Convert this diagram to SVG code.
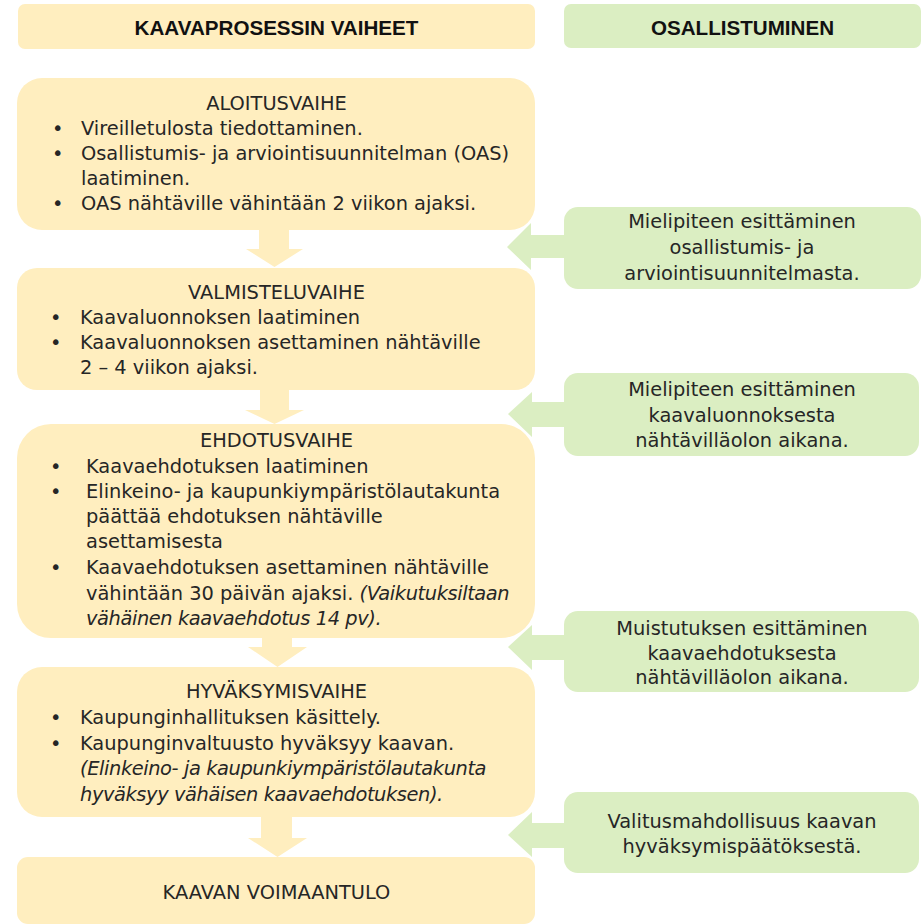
<svg xmlns="http://www.w3.org/2000/svg" width="921" height="924" viewBox="0 0 921 924">
<style>
.y{fill:#FFEEBF}
.g{fill:#DBEEC2}
text{font-family:"DejaVu Sans","Liberation Sans",Arial,sans-serif;font-size:19.4px;fill:#262626}
.h{font-family:"Liberation Sans",Arial,sans-serif;font-weight:bold;font-size:20.6px;text-anchor:middle;fill:#111}
.c{text-anchor:middle}
.i{font-style:italic;letter-spacing:-0.4px}
</style>
<rect width="921" height="924" fill="#ffffff"/>
<g id="connectors">
<path class="y" d="M259,230 H289 V249 H303 L274.5,267 L246,249 H259 Z"/>
<path class="y" d="M260,390 H289 V410 H304 L274.5,424 L245,410 H260 Z"/>
<path class="y" d="M262,638 H292 V647 H307 L277.5,667 L248,647 H262 Z"/>
<path class="y" d="M261,817 H292 V838 H307 L277.5,857 L248,838 H261 Z"/>
<path class="g" d="M565,235 H531 V223 L507,247 L531,270 V258 H565 Z"/>
<path class="g" d="M565,402 H532 V392 L508,414 L532,437 V427 H565 Z"/>
<path class="g" d="M565,635 H532 V625 L508,647 L532,670 V660 H565 Z"/>
<path class="g" d="M565,823 H532 V812 L508,835 L532,857 V848 H565 Z"/>
</g>
<g id="header-left">
<rect class="y" x="18" y="4" width="517" height="45" rx="7"/>
<text class="h" x="276.5" y="35">KAAVAPROSESSIN VAIHEET</text>
</g>
<g id="header-right">
<rect class="g" x="564" y="4" width="357" height="44" rx="7"/>
<text class="h" x="742.5" y="35">OSALLISTUMINEN</text>
</g>
<g id="aloitusvaihe">
<rect class="y" x="17" y="78" width="518" height="152" rx="25"/>
<text class="c" x="276.5" y="110">ALOITUSVAIHE</text>
<text x="52" y="135">•</text><text x="81" y="135">Vireilletulosta tiedottaminen.</text>
<text x="52" y="160">•</text><text x="81" y="160">Osallistumis- ja arviointisuunnitelman (OAS)</text>
<text x="81" y="185">laatiminen.</text>
<text x="52" y="210">•</text><text x="81" y="210">OAS nähtäville vähintään 2 viikon ajaksi.</text>
</g>
<g id="valmisteluvaihe">
<rect class="y" x="17" y="268" width="518" height="122" rx="20"/>
<text class="c" x="276.5" y="299">VALMISTELUVAIHE</text>
<text x="50" y="324">•</text><text x="80" y="324">Kaavaluonnoksen laatiminen</text>
<text x="50" y="349">•</text><text x="80" y="349">Kaavaluonnoksen asettaminen nähtäville</text>
<text x="80" y="374">2 – 4 viikon ajaksi.</text>
</g>
<g id="ehdotusvaihe">
<rect class="y" x="17" y="424" width="518" height="214" rx="34"/>
<text class="c" x="276.5" y="447">EHDOTUSVAIHE</text>
<text x="50" y="473">•</text><text x="86" y="473">Kaavaehdotuksen laatiminen</text>
<text x="50" y="498">•</text><text x="86" y="498">Elinkeino- ja kaupunkiympäristölautakunta</text>
<text x="86" y="523">päättää ehdotuksen nähtäville</text>
<text x="86" y="548">asettamisesta</text>
<text x="50" y="574">•</text><text x="86" y="574">Kaavaehdotuksen asettaminen nähtäville</text>
<text x="86" y="600">vähintään 30 päivän ajaksi. <tspan class="i">(Vaikutuksiltaan</tspan></text>
<text class="i" x="86" y="625">vähäinen kaavaehdotus 14 pv).</text>
</g>
<g id="hyvaksymisvaihe">
<rect class="y" x="17" y="667" width="518" height="150" rx="25"/>
<text class="c" x="276.5" y="698">HYVÄKSYMISVAIHE</text>
<text x="50" y="724">•</text><text x="80" y="724">Kaupunginhallituksen käsittely.</text>
<text x="50" y="750">•</text><text x="80" y="750">Kaupunginvaltuusto hyväksyy kaavan.</text>
<text class="i" x="80" y="775">(Elinkeino- ja kaupunkiympäristölautakunta</text>
<text class="i" x="80" y="801">hyväksyy vähäisen kaavaehdotuksen).</text>
</g>
<g id="voimaantulo">
<rect class="y" x="17" y="857" width="518" height="67" rx="11"/>
<text class="c" x="276.5" y="899">KAAVAN VOIMAANTULO</text>
</g>
<g id="mielipide-oas">
<rect class="g" x="564" y="207" width="357" height="82" rx="14"/>
<text class="c" x="742" y="228">Mielipiteen esittäminen</text>
<text class="c" x="742" y="254">osallistumis- ja</text>
<text class="c" x="742" y="280">arviointisuunnitelmasta.</text>
</g>
<g id="mielipide-luonnos">
<rect class="g" x="564" y="373" width="355" height="83" rx="14"/>
<text class="c" x="742" y="396">Mielipiteen esittäminen</text>
<text class="c" x="742" y="422">kaavaluonnoksesta</text>
<text class="c" x="742" y="447">nähtävilläolon aikana.</text>
</g>
<g id="muistutus">
<rect class="g" x="564" y="611" width="355" height="81" rx="14"/>
<text class="c" x="742" y="635">Muistutuksen esittäminen</text>
<text class="c" x="742" y="660">kaavaehdotuksesta</text>
<text class="c" x="742" y="684">nähtävilläolon aikana.</text>
</g>
<g id="valitus">
<rect class="g" x="564" y="792" width="355" height="81" rx="14"/>
<text class="c" x="742" y="828">Valitusmahdollisuus kaavan</text>
<text class="c" x="742" y="853">hyväksymispäätöksestä.</text>
</g>
</svg>
